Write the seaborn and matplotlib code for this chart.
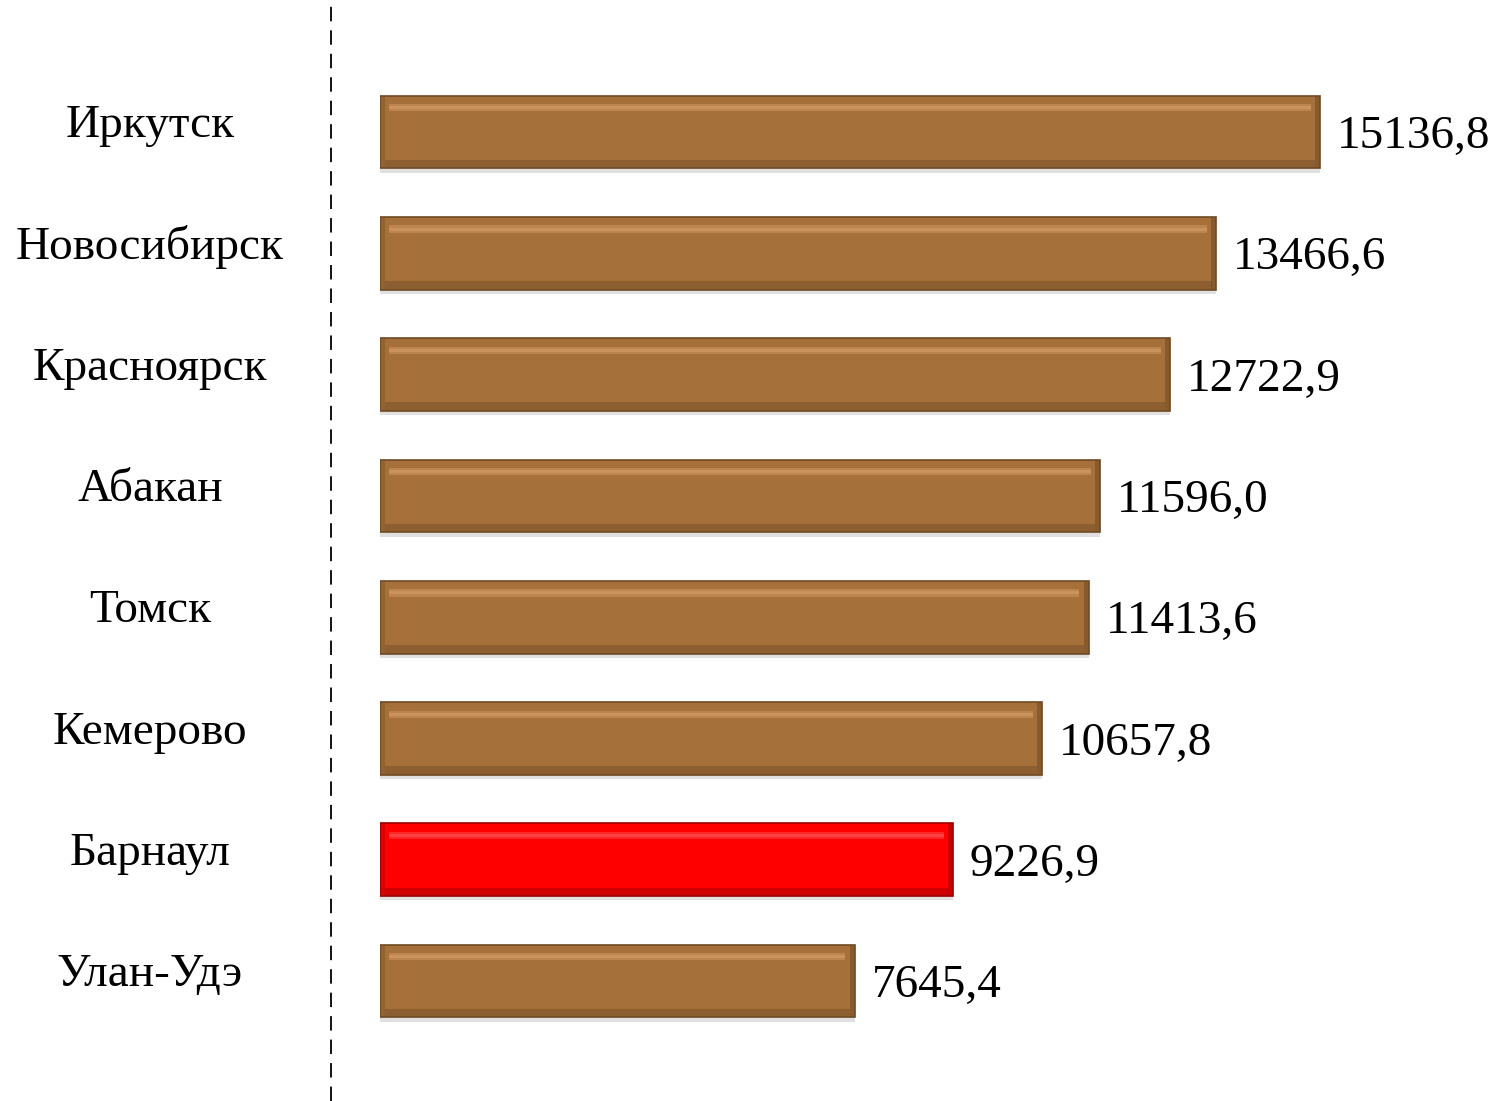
import numpy as np
import pandas as pd
import matplotlib.pyplot as plt
import matplotlib.transforms as mtransforms
from matplotlib.lines import Line2D
import seaborn as sns

cities = ["Иркутск", "Новосибирск", "Красноярск", "Абакан", "Томск",
          "Кемерово", "Барнаул", "Улан-Удэ"]
values = [15136.8, 13466.6, 12722.9, 11596.0, 11413.6, 10657.8, 9226.9, 7645.4]
labels = ["15136,8", "13466,6", "12722,9", "11596,0", "11413,6",
          "10657,8", "9226,9", "7645,4"]
highlight = "Барнаул"

df = pd.DataFrame({"city": cities, "value": values})

sns.set_theme(style="white")
plt.rcParams["font.family"] = ["Liberation Serif", "DejaVu Serif"]

W, H = 1497, 1101
fig = plt.figure(figsize=(W / 100, H / 100), dpi=100)
ax = fig.add_axes([380 / W, 0, 1 - 380 / W, 1])

brown = "#A5703A"
red = "#FF0000"
palette = {c: (red if c == highlight else brown) for c in cities}

# shadow under each bar
ax.barh(np.arange(len(cities)) + 0.035, values, height=0.6,
        color="#000000", alpha=0.12, linewidth=0, zorder=1)

sns.barplot(data=df, y="city", x="value", hue="city", palette=palette,
            order=cities, orient="h", width=0.6, legend=False,
            edgecolor="none", linewidth=0, saturation=1, ax=ax, zorder=2)

# bevel: light top strip, dark bottom strip, dark left/right edges
for i, (c, v) in enumerate(zip(cities, values)):
    light = "#FF5A5A" if c == highlight else "#D9A06A"
    dark = "#9A0000" if c == highlight else "#6E4A25"
    ax.barh(i - 0.2, v - 300, left=150, height=0.06, color=light,
            alpha=0.45, linewidth=0, zorder=3)
    ax.barh(i - 0.2, v - 300, left=150, height=0.025, color=light,
            alpha=0.5, linewidth=0, zorder=3)
    ax.barh(i + 0.265, v - 150, left=75, height=0.07, color=dark,
            alpha=0.45, linewidth=0, zorder=3)
    ax.barh(i, 80, left=0, height=0.6, color=dark, alpha=0.35,
            linewidth=0, zorder=3)
    ax.barh(i, 80, left=v - 80, height=0.6, color=dark, alpha=0.55,
            linewidth=0, zorder=3)
    ax.barh(i, v, height=0.6, fill=False, edgecolor=dark, linewidth=1.2,
            zorder=4)

px_per_unit = 940 / 15136.8
ax.set_xlim(0, (W - 380) / px_per_unit)
ax.set_ylim((H - 132) / 121.3, -132 / 121.3)

for i, (v, lab) in enumerate(zip(values, labels)):
    ax.text(v + 270, i + 0.04, lab, va="center", ha="left", fontsize=34,
            color="black", clip_on=False)

trans = mtransforms.blended_transform_factory(fig.transFigure, ax.transData)
for i, c in enumerate(cities):
    ax.text(150 / W, i - 0.05, c, transform=trans, ha="center", va="center",
            fontsize=34, color="black")

ax.axis("off")

fig.add_artist(Line2D([331 / W, 331 / W], [0, 1], transform=fig.transFigure,
                      color="black", linewidth=1.3, linestyle=(0, (8, 5))))

fig.savefig("out.png", dpi=100)
